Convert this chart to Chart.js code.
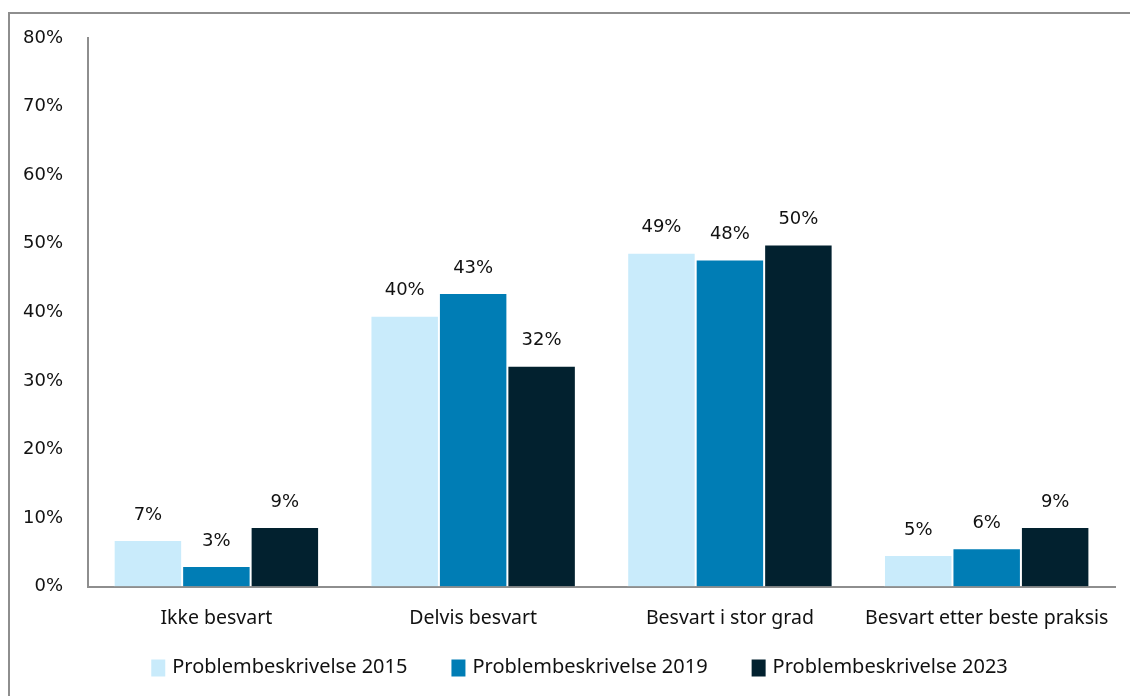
<!DOCTYPE html>
<html lang="no">
<head>
<meta charset="utf-8">
<title>Problembeskrivelse 2015, 2019 og 2023</title>
<script src="https://cdn.jsdelivr.net/npm/chart.js@4/dist/chart.umd.min.js"></script>
<style>
  html, body { margin: 0; padding: 0; background: #fff; overflow: hidden; }
  #wrap { position: relative; width: 1130px; height: 696px; }
  #frame {
    position: absolute; left: 8px; top: 12px; width: 1200px; height: 800px;
    border-left: 2px solid #8e8e8e; border-top: 2px solid #8e8e8e;
    box-sizing: border-box; pointer-events: none;
  }
  canvas { position: absolute; left: 0; top: 0; }
</style>
</head>
<body>
<div id="wrap">
  <canvas id="chart" width="1130" height="696"></canvas>
  <div id="frame"></div>
</div>
<script>
// Kategorier og andeler (prosent) per år
const categories = ['Ikke besvart', 'Delvis besvart', 'Besvart i stor grad', 'Besvart etter beste praksis'];
const seriesNames = ['Problembeskrivelse 2015', 'Problembeskrivelse 2019', 'Problembeskrivelse 2023'];
const values2015 = [6.8, 39.5, 48.7, 4.6];
const values2019 = [3.0, 42.8, 47.7, 5.6];
const values2023 = [8.7, 32.2, 49.9, 8.7];
const yTicks = [0, 10, 20, 30, 40, 50, 60, 70, 80];

const colors = ['#c9ebfb', '#007db5', '#02212f'];
const series = [values2015, values2019, values2023];

const textColor = '#111111';
const labelFont = '"DejaVu Sans", sans-serif';
const catFont = '"Noto Sans", "Open Sans", sans-serif';

// Verdietiketter over hver søyle
const valueLabels = {
  id: 'valueLabels',
  afterDatasetsDraw(chart) {
    const ctx = chart.ctx;
    ctx.save();
    ctx.font = '18px ' + labelFont;
    ctx.fillStyle = textColor;
    ctx.textAlign = 'center';
    ctx.textBaseline = 'middle';
    chart.data.datasets.forEach((ds, i) => {
      chart.getDatasetMeta(i).data.forEach((bar, j) => {
        ctx.fillText(Math.round(ds.data[j]) + '%', bar.x, bar.y - 25);
      });
    });
    ctx.restore();
  }
};

// Tegnforklaring sentrert under kategoriaksen
const bottomLegend = {
  id: 'bottomLegend',
  afterDraw(chart) {
    const ctx = chart.ctx;
    const boxW = 14, boxH = 17, textGap = 7, itemGap = 44;
    const y = 667;
    ctx.save();
    ctx.font = '20px ' + catFont;
    const items = chart.data.datasets.map(ds => ({
      text: ds.label, color: ds.backgroundColor, w: ctx.measureText(ds.label).width
    }));
    const total = items.reduce((s, it) => s + boxW + textGap + it.w, 0) + itemGap * (items.length - 1);
    let x = (chart.chartArea.left + chart.chartArea.right) / 2 - total / 2 - 22;
    ctx.textBaseline = 'middle';
    ctx.textAlign = 'left';
    items.forEach(it => {
      ctx.fillStyle = it.color;
      ctx.fillRect(x, y - boxH / 2 + 1, boxW, boxH);
      ctx.fillStyle = textColor;
      ctx.fillText(it.text, x + boxW + textGap, y);
      x += boxW + textGap + it.w + itemGap;
    });
    ctx.restore();
  }
};

new Chart(document.getElementById('chart'), {
  type: 'bar',
  data: {
    labels: categories,
    datasets: series.map((vals, i) => ({
      label: seriesNames[i],
      data: vals,
      backgroundColor: colors[i],
      borderColor: '#ffffff',
      borderWidth: 1,
      borderSkipped: 'bottom',
      categoryPercentage: 0.8,
      barPercentage: 1.0
    }))
  },
  options: {
    responsive: false,
    animation: false,
    layout: { padding: { left: 20, right: 13, top: 38, bottom: 46 } },
    plugins: {
      tooltip: { enabled: false },
      legend: { display: false }
    },
    scales: {
      x: {
        grid: { display: false, drawTicks: false },
        border: { display: true, color: '#8e8e8e', width: 2 },
        ticks: { color: textColor, padding: 20, font: { family: catFont, size: 19.5 } }
      },
      y: {
        min: 0,
        max: 80,
        afterBuildTicks(scale) { scale.ticks = yTicks.map(v => ({ value: v })); },
        afterFit(scale) { scale.width = 68; },
        grid: { display: false, drawTicks: false },
        border: { display: true, color: '#8e8e8e', width: 2 },
        ticks: {
          color: textColor,
          padding: 25,
          font: { family: labelFont, size: 18 },
          callback: v => v + '%'
        }
      }
    }
  },
  plugins: [valueLabels, bottomLegend]
});
</script>
</body>
</html>
